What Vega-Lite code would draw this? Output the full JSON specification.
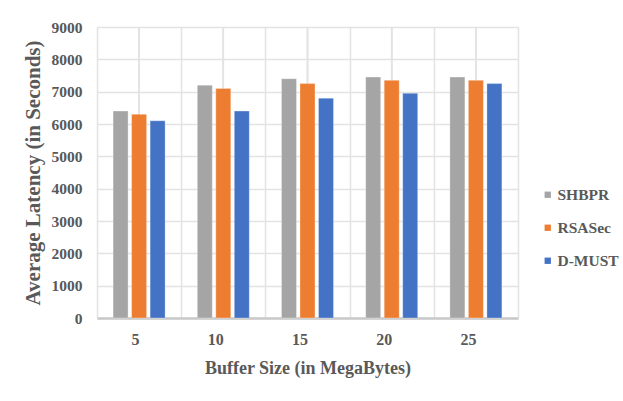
{
  "$schema": "https://vega.github.io/schema/vega-lite/v6.json",
  "width": 421,
  "height": 291,
  "autosize": {"type": "none"},
  "padding": {"left": 97, "top": 27, "right": 105, "bottom": 83},
  "background": "white",
  "config": {
    "view": {"stroke": null},
    "font": "Liberation Serif",
    "axis": {"labelFont": "Liberation Serif", "titleFont": "Liberation Serif", "labelColor": "#595959", "titleColor": "#595959", "labelFontWeight": "bold", "titleFontWeight": "bold"}
  },
  "data": {
    "values": [
      {"size": 5, "method": "SHBPR", "latency": 6400},
      {"size": 5, "method": "RSASec", "latency": 6300},
      {"size": 5, "method": "D-MUST", "latency": 6100},
      {"size": 10, "method": "SHBPR", "latency": 7200},
      {"size": 10, "method": "RSASec", "latency": 7100},
      {"size": 10, "method": "D-MUST", "latency": 6400},
      {"size": 15, "method": "SHBPR", "latency": 7400},
      {"size": 15, "method": "RSASec", "latency": 7250},
      {"size": 15, "method": "D-MUST", "latency": 6800},
      {"size": 20, "method": "SHBPR", "latency": 7450},
      {"size": 20, "method": "RSASec", "latency": 7350},
      {"size": 20, "method": "D-MUST", "latency": 6950},
      {"size": 25, "method": "SHBPR", "latency": 7450},
      {"size": 25, "method": "RSASec", "latency": 7350},
      {"size": 25, "method": "D-MUST", "latency": 7250}
    ]
  },
  "layer": [
    {
      "mark": {"type": "rule", "color": "#e3e3e3", "strokeWidth": 1.5},
      "encoding": {
        "x": {"field": "size", "type": "ordinal"}
      }
    },
    {
      "mark": {"type": "bar", "stroke": "white", "strokeOpacity": 0.6, "strokeWidth": 0.5},
      "encoding": {
        "x": {
          "field": "size", "type": "ordinal",
          "scale": {"paddingInner": 0, "paddingOuter": 0},
          "axis": {
            "title": "Buffer Size (in MegaBytes)",
            "labelAngle": 0,
            "labelFontSize": 16,
            "titleFontSize": 18,
            "labelPadding": 21,
            "titlePadding": 12,
            "ticks": false,
            "tickBand": "extent",
            "grid": true,
            "gridColor": "#e3e3e3",
            "gridWidth": 1.5,
            "domain": true,
            "domainColor": "#c9c9c9",
            "domainWidth": 2.5
          }
        },
        "xOffset": {
          "field": "method", "type": "nominal",
          "sort": ["SHBPR", "RSASec", "D-MUST"],
          "scale": {"paddingInner": 0.19, "paddingOuter": 0.87}
        },
        "y": {
          "field": "latency", "type": "quantitative",
          "scale": {"domain": [0, 9000], "nice": false},
          "axis": {
            "title": "Average Latency (in Seconds)",
            "format": "d",
            "values": [0, 1000, 2000, 3000, 4000, 5000, 6000, 7000, 8000, 9000],
            "labelFontSize": 15.5,
            "titleFontSize": 21,
            "labelPadding": 15,
            "titlePadding": 8,
            "ticks": false,
            "domain": false,
            "grid": true,
            "gridColor": "#e3e3e3",
            "gridWidth": 1.5
          }
        },
        "color": {
          "field": "method", "type": "nominal",
          "sort": ["SHBPR", "RSASec", "D-MUST"],
          "scale": {"domain": ["SHBPR", "RSASec", "D-MUST"], "range": ["#A5A5A5", "#ED7D31", "#4472C4"]},
          "legend": {
            "title": null,
            "orient": "none",
            "legendX": 443,
            "legendY": 160,
            "symbolType": "square",
            "symbolSize": 40,
            "symbolStrokeWidth": 0,
            "labelFont": "Liberation Serif",
            "labelFontWeight": "bold",
            "labelFontSize": 15.5,
            "labelColor": "#595959",
            "labelOffset": 2,
            "rowPadding": 16
          }
        }
      }
    }
  ]
}
